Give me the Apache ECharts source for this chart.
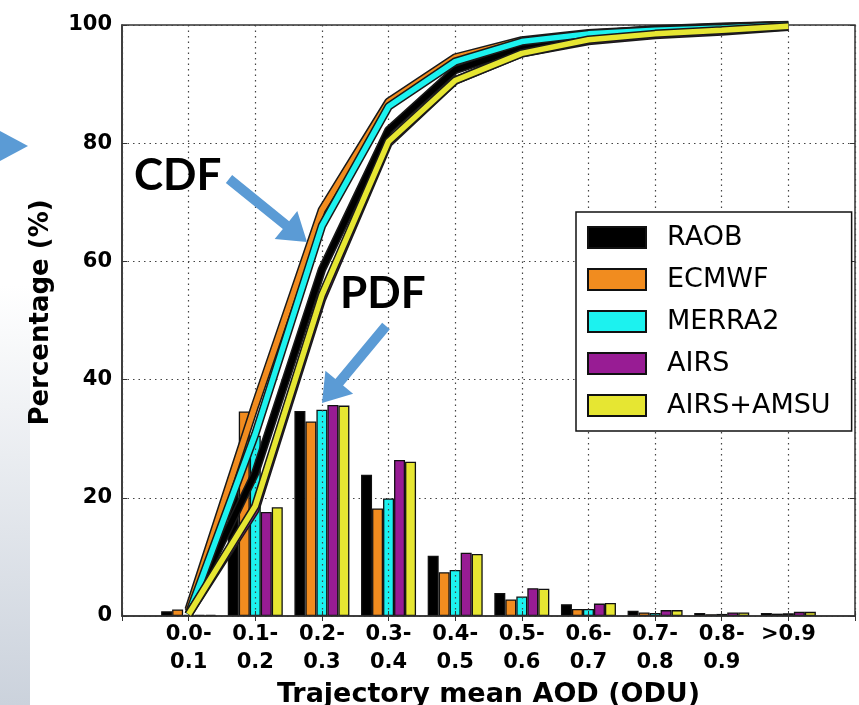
<!DOCTYPE html>
<html>
<head>
<meta charset="utf-8">
<script src="https://cdn.jsdelivr.net/npm/echarts@6/dist/echarts.min.js"></script>
<style>
  html, body { margin: 0; padding: 0; background: #fff; }
  #chart { width: 859px; height: 705px; }
</style>
</head>
<body>
<div id="chart"></div>
<script>
// bins of trajectory mean AOD
const categories = ['0.0-\n0.1', '0.1-\n0.2', '0.2-\n0.3', '0.3-\n0.4', '0.4-\n0.5',
  '0.5-\n0.6', '0.6-\n0.7', '0.7-\n0.8', '0.8-\n0.9', '>0.9']
const seriesNames = ['RAOB', 'ECMWF', 'MERRA2', 'AIRS', 'AIRS+AMSU']
const yTicks = [0, 20, 40, 60, 80, 100]

// PDF (bars), percent per bin
const pdfRaob     = [0.8, 23.5, 34.7, 23.9, 10.2, 3.9, 2.0, 0.9, 0.5, 0.5]
const pdfEcmwf    = [1.1, 34.6, 32.9, 18.2, 7.4, 2.8, 1.2, 0.6, 0.3, 0.4]
const pdfMerra2   = [0.2, 30.5, 34.9, 19.9, 7.8, 3.3, 1.2, 0.5, 0.35, 0.45]
const pdfAirs     = [0.2, 17.6, 35.7, 26.4, 10.7, 4.7, 2.1, 1.0, 0.6, 0.7]
const pdfAirsAmsu = [0.2, 18.4, 35.6, 26.1, 10.5, 4.6, 2.2, 1.0, 0.6, 0.7]

// CDF (lines), percent
const cdfRaob     = [0.8, 24.2, 58.6, 82.2, 92.4, 96.1, 98.4, 99.3, 99.7, 100]
const cdfEcmwf    = [1.1, 35.7, 68.7, 87.0, 94.5, 97.4, 98.6, 99.2, 99.6, 100]
const cdfMerra2   = [0.3, 30.8, 66.0, 86.2, 93.8, 97.2, 98.5, 99.1, 99.5, 100]
const cdfAirs     = [0.3, 17.9, 53.6, 80.0, 90.6, 95.2, 97.3, 98.3, 98.9, 99.7]
const cdfAirsAmsu = [0.3, 18.6, 54.3, 80.3, 90.6, 95.2, 97.5, 98.5, 99.1, 99.8]

const pdfs = [pdfRaob, pdfEcmwf, pdfMerra2, pdfAirs, pdfAirsAmsu]
const cdfs = [cdfRaob, cdfEcmwf, cdfMerra2, cdfAirs, cdfAirsAmsu]
const colors = ['#000000', '#f18c1f', '#1cf2ef', '#981c94', '#e6e632']

// empty slot on each side so the bins sit on the grid ticks
const pad = arr => [null, ...arr, null]
const axisCats = ['', ...categories, '']

const font = 'DejaVu Sans'

// filled arrow polygon from (x1,y1) to tip (x2,y2)
function arrowPoints(x1, y1, x2, y2, shaftW, headW, headL) {
  const dx = x2 - x1, dy = y2 - y1
  const len = Math.sqrt(dx * dx + dy * dy)
  const ux = dx / len, uy = dy / len
  const nx = -uy, ny = ux
  const bx = x2 - ux * headL, by = y2 - uy * headL
  return [
    [x1 + nx * shaftW / 2, y1 + ny * shaftW / 2],
    [bx + nx * shaftW / 2, by + ny * shaftW / 2],
    [bx + nx * headW / 2, by + ny * headW / 2],
    [x2, y2],
    [bx - nx * headW / 2, by - ny * headW / 2],
    [bx - nx * shaftW / 2, by - ny * shaftW / 2],
    [x1 - nx * shaftW / 2, y1 - ny * shaftW / 2]
  ]
}

const series = []
seriesNames.forEach((name, i) => {
  series.push({
    name: name,
    type: 'bar',
    barWidth: 11,
    barGap: '0%',
    z: 2,
    itemStyle: { color: colors[i], borderColor: '#111', borderWidth: 1.3 },
    data: pad(pdfs[i])
  })
})
seriesNames.forEach((name, i) => {
  // black edge under each CDF line
  series.push({
    name: name + ' cdf edge',
    type: 'line',
    showSymbol: false,
    z: 5 + i * 2,
    lineStyle: { color: '#1a1a1a', width: 8.5 },
    data: pad(cdfs[i])
  })
  series.push({
    name: name + ' cdf',
    type: 'line',
    showSymbol: false,
    z: 6 + i * 2,
    lineStyle: { color: colors[i], width: 5.5 },
    data: pad(cdfs[i])
  })
})

const chart = echarts.init(document.getElementById('chart'))
chart.setOption({
  backgroundColor: '#fff',
  animation: false,
  grid: {
    left: 122, right: 4, top: 25, bottom: 89,
    outerBoundsMode: 'none', containLabel: false,
    show: true, borderColor: '#333', borderWidth: 1.5, backgroundColor: 'transparent'
  },
  legend: {
    orient: 'vertical',
    left: 576,
    top: 212,
    data: seriesNames.map(n => ({ name: n, icon: 'rect' })),
    selectedMode: false,
    itemWidth: 58,
    itemHeight: 21,
    itemGap: 15,
    padding: [12, 21, 12, 11],
    backgroundColor: '#fff',
    borderColor: '#111',
    borderWidth: 1.5,
    borderRadius: 0,
    textStyle: { fontFamily: font, fontSize: 27, color: '#000', padding: [0, 0, 0, 16] },
    z: 30
  },
  xAxis: [{
    type: 'category',
    data: axisCats,
    boundaryGap: false,
    z: 3,
    name: 'Trajectory mean AOD (ODU)',
    nameLocation: 'middle',
    nameGap: 59,
    nameTextStyle: { fontFamily: font, fontWeight: 'bold', fontSize: 27, color: '#000' },
    axisLine: { lineStyle: { color: '#333', width: 1.5 } },
    axisTick: { inside: true, length: 5, interval: 0, lineStyle: { color: '#333' } },
    axisLabel: { interval: 0, margin: 5, fontFamily: font, fontWeight: 'bold', fontSize: 21, lineHeight: 28, color: '#000' },
    splitLine: { show: true, interval: 0, lineStyle: { color: '#444', type: [1.5, 4], width: 1.2 } }
  }, {
    type: 'category',
    data: axisCats,
    boundaryGap: false,
    position: 'top',
    axisLine: { show: false },
    axisTick: { inside: true, length: 5, interval: 0, lineStyle: { color: '#333' } },
    axisLabel: { show: false },
    splitLine: { show: false }
  }],
  yAxis: [{
    type: 'value',
    min: yTicks[0],
    max: yTicks[yTicks.length - 1],
    interval: 20,
    name: 'Percentage (%)',
    nameLocation: 'middle',
    nameGap: 68,
    nameTextStyle: { fontFamily: font, fontWeight: 'bold', fontSize: 26, color: '#000', padding: [0, 0, 0, 16] },
    axisLine: { show: true, lineStyle: { color: '#333', width: 1.5 } },
    axisTick: { show: true, inside: true, length: 5, lineStyle: { color: '#333' } },
    axisLabel: { margin: 10, fontFamily: font, fontWeight: 'bold', fontSize: 21, color: '#000' },
    splitLine: { show: true, lineStyle: { color: '#444', type: [1.5, 4], width: 1.2 } }
  }, {
    type: 'value',
    min: yTicks[0],
    max: yTicks[yTicks.length - 1],
    interval: 20,
    position: 'right',
    axisLine: { show: false },
    axisTick: { show: true, inside: true, length: 5, lineStyle: { color: '#333' } },
    axisLabel: { show: false },
    splitLine: { show: false }
  }],
  graphic: [
    {
      type: 'rect', left: 0, top: 285, silent: true, z: 0,
      shape: { width: 30, height: 420 },
      style: { fill: new echarts.graphic.LinearGradient(0, 0, 0, 1, [
        { offset: 0, color: '#ffffff' }, { offset: 1, color: '#cbd2dc' }]) }
    },
    {
      type: 'polygon', silent: true, z: 0,
      shape: { points: [[0, 131], [28, 146], [0, 161]] },
      style: { fill: '#5b9bd5' }
    },
    {
      type: 'polygon', silent: true, z: 40,
      shape: { points: arrowPoints(229, 179, 307, 242, 10, 36, 27) },
      style: { fill: '#5b9bd5' }
    },
    {
      type: 'polygon', silent: true, z: 40,
      shape: { points: arrowPoints(386, 326, 322, 403, 10, 36, 27) },
      style: { fill: '#5b9bd5' }
    },
    {
      type: 'text', left: 134, top: 154, z: 40, silent: true,
      style: { text: 'CDF', font: 'bold 44px Lato', fill: '#000' }
    },
    {
      type: 'text', left: 340, top: 272, z: 40, silent: true,
      style: { text: 'PDF', font: 'bold 44px Lato', fill: '#000' }
    }
  ],
  series: series
})
</script>
</body>
</html>
